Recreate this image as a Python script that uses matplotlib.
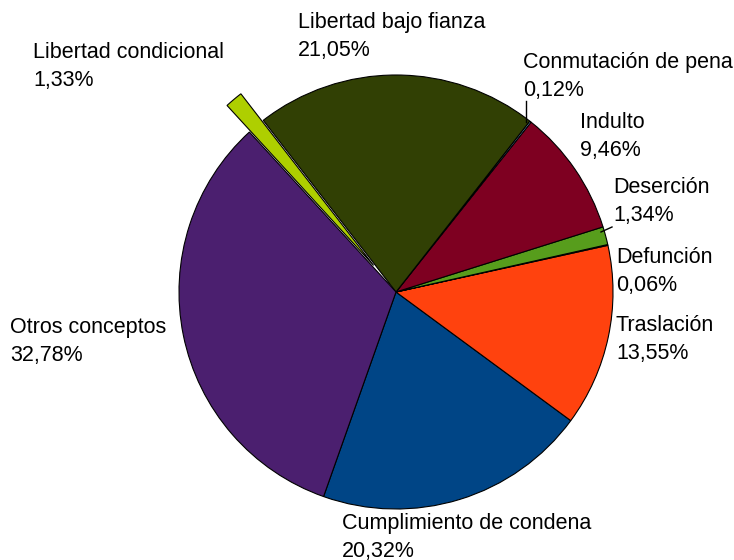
import matplotlib
matplotlib.use("Agg")
import matplotlib.pyplot as plt

categories = ["Cumplimiento de condena", "Traslación", "Defunción", "Deserción",
              "Indulto", "Conmutación de pena", "Libertad bajo fianza",
              "Libertad condicional", "Otros conceptos"]
values = [20.32, 13.55, 0.06, 1.34, 9.46, 0.12, 21.05, 1.33, 32.78]
colors = ["#004586", "#ff420e", "#ffd320", "#579d1c", "#7e0021", "#83caff",
          "#314004", "#aecf00", "#4b1f6f"]
explode = [0, 0, 0, 0, 0, 0, 0, 0.16, 0]

# label anchor positions (pixel, top-left of text block)
label_pos = [(342, 513), (616, 315), (616, 247), (613, 177), (580, 112),
             (523, 52), (298, 12), (33, 42), (10, 317)]

W, H = 734, 560
cx, cy, R = 396, 292, 217
fig = plt.figure(figsize=(W / 100, H / 100), dpi=100)
ax = fig.add_axes([(cx - R) / W, (H - cy - R) / H, 2 * R / W, 2 * R / H])
ax.pie(values, colors=colors, explode=explode, startangle=-109.5,
       counterclock=True, radius=1,
       wedgeprops=dict(edgecolor="black", linewidth=0.8))
ax.set_xlim(-1, 1)
ax.set_ylim(-1, 1)
ax.set_aspect("equal")
ax.axis("off")

fmt = lambda v: f"{v:.2f}".replace(".", ",") + "%"
for name, v, (px, py) in zip(categories, values, label_pos):
    fig.text(px / W, 1 - py / H, f"{name}\n{fmt(v)}", ha="left", va="top",
             fontsize=15.5, family="Liberation Sans", linespacing=1.42,
             color="black")

# leader lines
def line(p1, p2):
    fig.add_artist(plt.Line2D([p1[0] / W, p2[0] / W], [1 - p1[1] / H, 1 - p2[1] / H],
                              color="black", linewidth=1))
line((526, 122), (526, 101))
line((601, 232), (612, 227))

fig.savefig("out.png", dpi=100)
